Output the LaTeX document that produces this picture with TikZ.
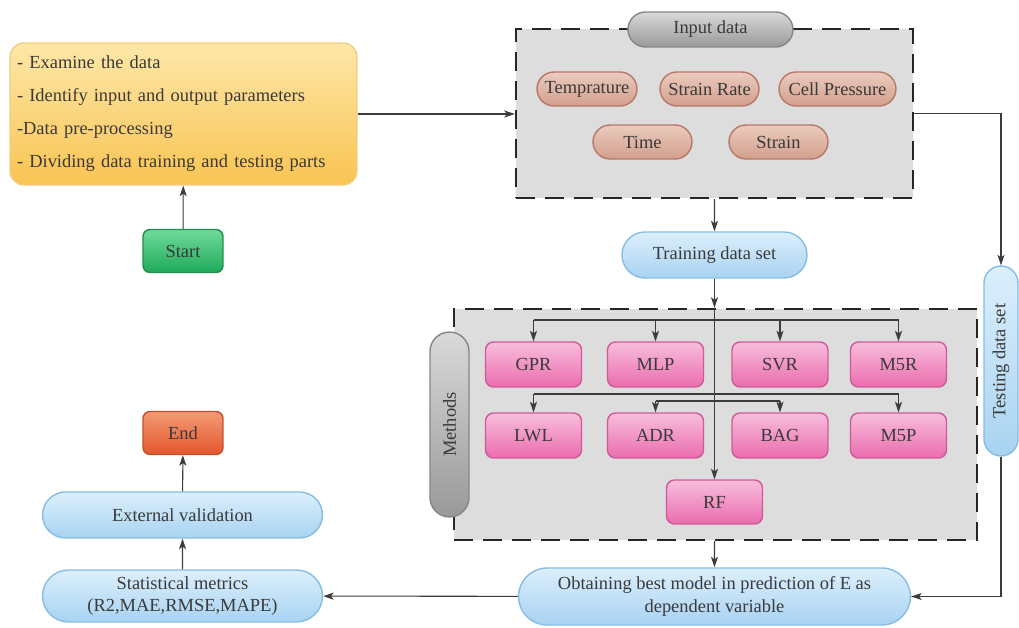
\documentclass[tikz,border=0pt]{standalone}
\usepackage{fontspec}
\setmainfont{Liberation Serif}
\usepackage{xcolor}
\usetikzlibrary{arrows.meta,shapes.misc}
\definecolor{inktext}{HTML}{3A3A3A}
\definecolor{inkline}{HTML}{3C3C3C}
\definecolor{preptop}{HTML}{FDE7A8}
\definecolor{prepbot}{HTML}{F9C453}
\definecolor{prepdraw}{HTML}{F2CD7C}
\definecolor{goodtop}{HTML}{6FDB9C}
\definecolor{goodbot}{HTML}{1FAA5A}
\definecolor{gooddraw}{HTML}{1E8E4C}
\definecolor{endtop}{HTML}{F29A74}
\definecolor{endbot}{HTML}{E4572E}
\definecolor{enddraw}{HTML}{C4502E}
\definecolor{skytop}{HTML}{DCEFFC}
\definecolor{skybot}{HTML}{A8D3F1}
\definecolor{skydraw}{HTML}{86BDE3}
\definecolor{claytop}{HTML}{EBCBBE}
\definecolor{claybot}{HTML}{D29F8C}
\definecolor{claydraw}{HTML}{B7786A}
\definecolor{rosetop}{HTML}{F8BEDC}
\definecolor{rosebot}{HTML}{EA6CAE}
\definecolor{rosedraw}{HTML}{CF5A9A}
\definecolor{ashtop}{HTML}{D9D9D9}
\definecolor{ashbot}{HTML}{999999}
\definecolor{ashdraw}{HTML}{868686}
\definecolor{framefill}{HTML}{DDDDDD}

\tikzset{
  link/.style={draw=inkline, line width=0.6pt},
  arr/.style={link, -{Stealth[length=6pt,width=4pt,inset=1.5pt]}},
  frame/.style={draw=black!85, fill=framefill, line width=1.4pt,
    dash pattern=on 0.38cm off 0.2cm, inner sep=0},
  pill/.style={rounded rectangle, inner sep=0, line width=0.8pt, text=inktext},
  skypill/.style={pill, draw=skydraw, top color=skytop, bottom color=skybot},
  claypill/.style={pill, draw=claydraw, top color=claytop, bottom color=claybot,
    minimum width=1.98cm, minimum height=0.68cm},
  ashpill/.style={pill, draw=ashdraw, top color=ashtop, bottom color=ashbot},
  model/.style={draw=rosedraw, top color=rosetop, bottom color=rosebot, line width=0.8pt,
    rounded corners=0.16cm, minimum width=1.92cm, minimum height=0.9cm, inner sep=0, text=inktext},
  term/.style={rounded corners=0.14cm, line width=0.8pt, minimum width=1.6cm,
    minimum height=0.86cm, inner sep=0, text=inktext}
}

\begin{document}
\begin{tikzpicture}[x=0.02cm, y=-0.02cm, font=\fontsize{10.5}{13}\selectfont]
        \useasboundingbox (0,0) rectangle (1019,628);

        % Preparation and start
        \node[draw=prepdraw, top color=preptop, bottom color=prepbot, line width=0.8pt,
              rounded corners=0.28cm, minimum width=6.94cm, minimum height=2.84cm,
              inner xsep=0.14cm, text width=6.66cm, align=left, text=inktext,
              font=\fontsize{10.5}{18.8}\selectfont] (prep) at (183.5,114)
              {- Examine the data\\- Identify input and output parameters\\-Data pre-processing\\- Dividing data training and testing parts};
        \node[term, draw=gooddraw, top color=goodtop, bottom color=goodbot] (start) at (183,251) {Start};

        % Input data
        \node[frame, minimum width=7.94cm, minimum height=3.38cm] (inbox) at (714.5,113.5) {};
        \node[ashpill, minimum width=3.3cm, minimum height=0.7cm] (indata) at (710.5,29.5) {Input data};
        \node[claypill, minimum width=2.0cm] (temp) at (587,89) {Temprature};
        \node[claypill] (srate) at (709.5,89) {Strain Rate};
        \node[claypill, minimum width=2.34cm] (cellp) at (837.5,89) {Cell Pressure};
        \node[claypill] (time) at (642.5,142) {Time};
        \node[claypill] (strain) at (778.5,142) {Strain};

        % Data sets
        \node[skypill, minimum width=3.7cm, minimum height=0.92cm] (train) at (714.5,255) {Training data set};
        \node[skypill, rotate=90, minimum width=3.8cm, minimum height=0.68cm] (test) at (1001,361) {Testing data set};

        % Methods
        \node[frame, minimum width=10.46cm, minimum height=4.62cm] (methbox) at (715.5,424.5) {};
        \node[ashpill, rotate=90, minimum width=3.7cm, minimum height=0.78cm] (meth) at (449.5,424.5) {Methods};
        \node[model] (gpr) at (533.5,364.5) {GPR};
        \node[model] (mlp) at (655.5,364.5) {MLP};
        \node[model] (svr) at (780,364.5) {SVR};
        \node[model] (mfr) at (898.5,364.5) {M5R};
        \node[model] (lwl) at (533.5,435.5) {LWL};
        \node[model] (adr) at (655.5,435.5) {ADR};
        \node[model] (bag) at (780,435.5) {BAG};
        \node[model] (mfp) at (898.5,435.5) {M5P};
        \node[model, minimum height=0.88cm] (rf) at (714.5,502) {RF};

        % Results
        \node[skypill, minimum width=7.84cm, minimum height=1.14cm, align=center] (obtain) at (714.5,596.5)
              {Obtaining best model in prediction of E as\\dependent variable};
        \node[skypill, minimum width=5.6cm, minimum height=1.04cm, align=center] (stat) at (182.5,596)
              {Statistical metrics\\(R2,MAE,RMSE,MAPE)};
        \node[skypill, minimum width=5.6cm, minimum height=0.92cm] (ext) at (182.5,515) {External validation};
        \node[term, draw=enddraw, top color=endtop, bottom color=endbot] (end) at (183,433) {End};

        % Arrows
        \draw[arr] (start) -- (prep);
        \draw[arr] (prep.east) -- (prep.east -| inbox.west);
        \draw[arr] (inbox) -- (train);
        \draw[arr] (inbox.east) -| (test.east);
        \draw[arr] (train.south) -- (train.south |- methbox.north);
        \draw[arr] (train.south |- methbox.north) -- (rf.north);
        \coordinate (busa) at (715,320);
        \coordinate (busb) at (715,394);
        \coordinate (busc) at (715,401);
        \draw[link] (gpr.north |- busa) -- (mfr.north |- busa);
        \draw[link] (lwl.north |- busb) -- (mfp.north |- busb);
        \draw[link] (adr.north |- busc) -- (bag.north |- busc);
        \foreach \m in {gpr,mlp,svr,mfr}
            \draw[arr] (\m.north |- busa) -- (\m.north);
        \foreach \m in {lwl,mfp}
            \draw[arr] (\m.north |- busb) -- (\m.north);
        \foreach \m in {adr,bag}
            \draw[arr] (\m.north |- busc) -- (\m.north);
        \draw[arr] (methbox.south -| rf) -- (obtain);
        \draw[arr] (test.west) |- (obtain.east);
        \draw[arr] (obtain) -- (stat);
        \draw[arr] (stat) -- (ext);
        \draw[arr] (ext) -- (end);
    \end{tikzpicture}
\end{document}
